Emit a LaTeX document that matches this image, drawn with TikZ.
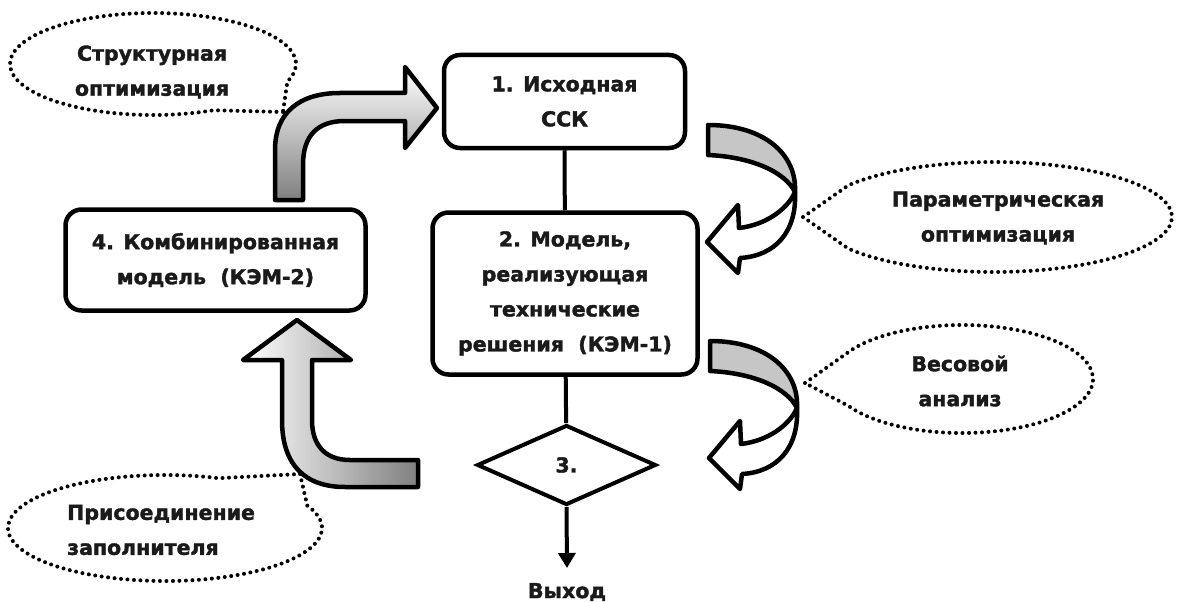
\documentclass[tikz,border=0pt]{standalone}
\usepackage{fontspec}
\setmainfont{DejaVu Sans}[BoldFeatures={FakeBold=1.8}]
\usetikzlibrary{shapes.geometric,arrows.meta}
\newcommand\dgtxt{\fontsize{20.5}{35}\selectfont\bfseries}
\definecolor{ink}{HTML}{1A1A1A}
\begin{document}
\begin{tikzpicture}[x=1pt,y=-1pt,
  box/.style={draw=black, line width=4.5pt, rounded corners=16pt, align=center,
    font=\dgtxt, text=ink, inner sep=0pt},
  conn/.style={draw=black, line width=4pt},
  label/.style={font=\dgtxt, text=ink, inner sep=0pt},
  callout/.style={draw=black, line width=4pt, dash pattern=on 0pt off 6.5pt,
    line cap=round},
  blockarrow/.style={draw=black, line width=4.5pt, line join=round},
  twistarrow/.pic={
    \filldraw[blockarrow, fill=gray!45] (708,125) .. controls (765,125) and (797,155) .. (795,192)
      .. controls (785,172) and (752,157) .. (708,155) -- cycle;
    \filldraw[blockarrow, fill=white] (795,192) .. controls (797,232) and (775,256) .. (740,258)
      -- (738,273) -- (707,242) -- (738,205) -- (739,228)
      .. controls (765,225) and (787,210) .. (795,192) -- cycle;
  }]
\useasboundingbox (0,0) rectangle (1179,602);

% main nodes
\node[box, minimum width=241pt, minimum height=93pt] (b1) at (564.5,101.5) {1. Исходная\\ССК};
\node[box, minimum width=265pt, minimum height=162pt] (b2) at (565,293.5)
  {2. Модель,\\реализующая\\технические\\решения\ \ (КЭМ-1)};
\node[box, minimum width=300pt, minimum height=101pt] (b4) at (215.5,260)
  {4. Комбинированная\\модель\ \ (КЭМ-2)};
\node[draw=black, line width=4pt, shape=diamond, inner sep=0pt, minimum width=179pt,
  minimum height=80pt, font=\dgtxt, text=ink] (b3) at (566.5,465) {3.};
\node[label] (out) at (567,592) {Выход};

% connectors
\draw[conn] (b1) -- (b2);
\draw[conn] (b2) -- (b3);
\draw[conn, -{Triangle[width=17pt,length=15pt]}] (b3.south) -- (567,568) coordinate (outtip);

% shaded bent arrows
\draw[blockarrow, top color=white, bottom color=gray]
  (275,200) -- (275,150) .. controls (275,112) and (300,93) .. (340,93) -- (405,93)
  -- (405,67) -- (437,108) -- (405,148) -- (405,121) -- (345,121)
  .. controls (318,121) and (303,135) .. (303,165) -- (303,200) -- cycle;
\draw[blockarrow, left color=white, right color=gray]
  (418,487) -- (345,487) .. controls (305,487) and (282,465) .. (282,420) -- (282,360)
  -- (243,360) -- (297,320) -- (351,360) -- (312,360) -- (312,420)
  .. controls (312,445) and (325,460) .. (350,460) -- (418,460) -- cycle;

% twisted arrows on the right
\pic at (0,0) {twistarrow};
\pic at (2,216) {twistarrow};

% callouts
\coordinate (c1) at (153,64);
\coordinate (k1) at (283,112);
\draw[callout] (k1) -- ([shift={(65:143 and 51)}]c1) arc[start angle=65, end angle=380, x radius=143, y radius=51] -- cycle;
\node[label, align=center] (t1) at (152,72) {Структурная\\оптимизация};

\coordinate (c2) at (994,217);
\coordinate (k2) at (803,217);
\draw[callout] (k2) -- ([shift={(215:178 and 55)}]c2) arc[start angle=215, end angle=505, x radius=178, y radius=55] -- cycle;
\node[label, align=center] (t2) at (998,218) {Параметрическая\\оптимизация};

\coordinate (c3) at (962,379);
\coordinate (k3) at (805,383);
\draw[callout] (k3) -- ([shift={(210:131 and 54)}]c3) arc[start angle=210, end angle=510, x radius=131, y radius=54] -- cycle;
\node[label, align=center] (t3) at (960,381) {Весовой\\анализ};

\coordinate (c4) at (165,528);
\coordinate (k4) at (300,474);
\draw[callout] (k4) -- ([shift={(335:157 and 53)}]c4) arc[start angle=335, end angle=650, x radius=157, y radius=53] -- cycle;
\node[label, align=left, anchor=west] (t4) at (67,530) {Присоединение\\заполнителя};
\end{tikzpicture}
\end{document}
